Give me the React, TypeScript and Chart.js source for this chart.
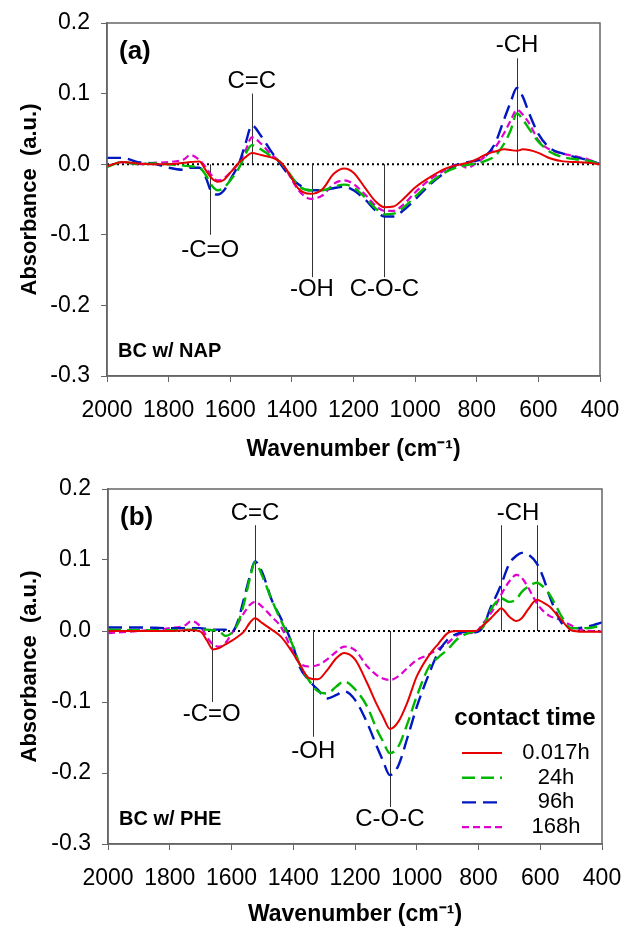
import React, { useEffect, useRef } from "react";
import { Chart, registerables } from "chart.js";
Chart.register(...registerables);

const FONT = "'Liberation Sans', Arial, Helvetica, sans-serif";

const seriesLabels = ["0.017h", "24h", "96h", "168h"];
const seriesColors = ["#e60000", "#00b800", "#0018c0", "#e000d0"];
const seriesDash = [[], [13, 6], [14, 7], [7, 4]];
const seriesWidth = [2, 2.4, 2.4, 2.2];

// ---------- Panel (a): BC w/ NAP ----------
const wavenumbersA = [2000, 1950, 1900, 1850, 1800, 1750, 1730, 1700, 1680, 1660, 1640, 1620, 1600, 1570, 1550, 1530, 1500, 1470, 1440, 1420, 1400, 1380, 1340, 1300, 1265, 1230, 1200, 1160, 1130, 1100, 1070, 1040, 1000, 950, 900, 860, 830, 800, 770, 740, 710, 690, 670, 650, 630, 600, 560, 520, 480, 440, 400];
const redA = [-0.003, 0.003, 0.001, 0.0, 0.0, 0.002, 0.003, 0.004, -0.008, -0.02, -0.025, -0.022, -0.012, 0.003, 0.01, 0.016, 0.013, 0.01, 0.004, -0.006, -0.02, -0.034, -0.042, -0.035, -0.014, -0.006, -0.012, -0.035, -0.052, -0.061, -0.06, -0.05, -0.033, -0.018, -0.006, -0.001, 0.002, 0.007, 0.014, 0.018, 0.021, 0.02, 0.019, 0.021, 0.02, 0.016, 0.008, 0.004, 0.003, 0.002, 0.0];
const greenA = [-0.004, 0.003, 0.0, 0.001, 0.0, -0.002, -0.003, -0.005, -0.015, -0.03, -0.037, -0.033, -0.023, -0.004, 0.015, 0.027, 0.021, 0.012, 0.004, -0.006, -0.018, -0.03, -0.037, -0.037, -0.032, -0.029, -0.033, -0.048, -0.062, -0.071, -0.07, -0.062, -0.046, -0.026, -0.011, -0.004, -0.001, 0.001, 0.005, 0.012, 0.03, 0.048, 0.072, 0.063, 0.05, 0.032, 0.017, 0.01, 0.007, 0.005, 0.0];
const blueA = [0.009, 0.009, 0.003, 0.001, -0.005, -0.008, -0.005, -0.005, -0.018, -0.04, -0.043, -0.037, -0.022, 0.003, 0.03, 0.055, 0.04, 0.02, 0.002, -0.01, -0.02, -0.028, -0.037, -0.037, -0.034, -0.032, -0.037, -0.051, -0.065, -0.074, -0.074, -0.066, -0.05, -0.028, -0.011, 0.0, 0.003, 0.005, 0.012, 0.03, 0.065, 0.088, 0.108, 0.095, 0.072, 0.043, 0.022, 0.015, 0.01, 0.006, 0.0];
const magentaA = [-0.003, 0.003, 0.0, 0.002, 0.003, 0.007, 0.013, 0.006, -0.004, -0.016, -0.023, -0.02, -0.012, 0.003, 0.02, 0.038, 0.029, 0.015, 0.004, -0.007, -0.022, -0.036, -0.049, -0.044, -0.028, -0.023, -0.028, -0.044, -0.058, -0.066, -0.066, -0.058, -0.04, -0.021, -0.008, 0.0, -0.005, 0.002, 0.012, 0.024, 0.045, 0.062, 0.077, 0.07, 0.058, 0.034, 0.02, 0.015, 0.011, 0.007, 0.0];

// ---------- Panel (b): BC w/ PHE ----------
const wavenumbersB = [2000, 1900, 1800, 1750, 1730, 1700, 1680, 1660, 1640, 1620, 1600, 1580, 1560, 1540, 1524, 1500, 1470, 1440, 1400, 1380, 1350, 1320, 1290, 1260, 1235, 1200, 1160, 1130, 1110, 1087, 1060, 1030, 1000, 960, 930, 900, 870, 840, 810, 785, 760, 740, 727, 700, 677, 660, 640, 611, 590, 569, 550, 530, 500, 460, 430, 400];
const redB = [0.0, 0.0, 0.0, 0.001, 0.001, -0.001, -0.013, -0.026, -0.024, -0.019, -0.014, -0.008, -0.001, 0.012, 0.018, 0.011, 0.002, -0.008, -0.032, -0.046, -0.066, -0.068, -0.055, -0.038, -0.031, -0.04, -0.074, -0.103, -0.12, -0.138, -0.128, -0.1, -0.064, -0.034, -0.018, -0.003, 0.0, 0.0, 0.0, 0.008, 0.018, 0.027, 0.032, 0.02, 0.014, 0.018, 0.03, 0.044, 0.04, 0.034, 0.025, 0.015, 0.001, -0.001, -0.001, -0.001];
const greenB = [0.002, 0.001, 0.001, 0.002, 0.002, 0.002, 0.002, 0.001, 0.0, -0.007, -0.003, 0.01, 0.038, 0.075, 0.097, 0.077, 0.044, 0.015, -0.022, -0.046, -0.069, -0.085, -0.088, -0.078, -0.071, -0.082, -0.107, -0.138, -0.155, -0.172, -0.163, -0.13, -0.092, -0.05, -0.037, -0.026, -0.012, -0.004, 0.0, 0.006, 0.03, 0.042, 0.046, 0.041, 0.045, 0.055, 0.062, 0.068, 0.062, 0.051, 0.036, 0.02, 0.004, 0.004, 0.005, 0.008];
const blueB = [0.005, 0.005, 0.004, 0.004, 0.004, 0.004, 0.003, 0.002, 0.002, 0.002, -0.002, 0.013, 0.045, 0.078, 0.098, 0.082, 0.044, 0.018, -0.022, -0.05, -0.069, -0.083, -0.095, -0.09, -0.085, -0.097, -0.13, -0.162, -0.182, -0.203, -0.19, -0.15, -0.107, -0.06, -0.03, -0.012, -0.004, -0.001, -0.002, 0.006, 0.034, 0.052, 0.065, 0.095, 0.106, 0.11, 0.108, 0.095, 0.075, 0.048, 0.028, 0.011, 0.004, 0.005, 0.008, 0.012];
const magentaB = [-0.003, 0.0, 0.004, 0.008, 0.014, 0.006, -0.008, -0.019, -0.022, -0.017, -0.004, 0.01, 0.025, 0.037, 0.041, 0.034, 0.02, 0.006, -0.031, -0.045, -0.05, -0.048, -0.04, -0.029, -0.022, -0.027, -0.05, -0.062, -0.067, -0.069, -0.064, -0.052, -0.041, -0.033, -0.025, -0.017, -0.006, -0.003, -0.002, 0.011, 0.025, 0.04, 0.051, 0.07, 0.079, 0.075, 0.062, 0.039, 0.028, 0.021, 0.018, 0.015, 0.008, 0.001, 0.0, -0.001];

// Axis ticks
const xTickStep = 200;
const xMin = 400;
const xMax = 2000;
const yMin = -0.3;
const yMax = 0.2;
const yTickStep = 0.1;

// Band annotations (wavenumber, line span and label height in data units)
const bandsA = [
  { text: "C=C", xs: [1530], labelX: 1530, from: 0, to: 0.1, labelY: 0.118 },
  { text: "-C=O", xs: [1665], labelX: 1665, from: 0, to: -0.1, labelY: -0.122 },
  { text: "-OH", xs: [1335], labelX: 1335, from: 0, to: -0.16, labelY: -0.178 },
  { text: "C-O-C", xs: [1100], labelX: 1100, from: 0, to: -0.16, labelY: -0.178 },
  { text: "-CH", xs: [669], labelX: 669, from: 0, to: 0.15, labelY: 0.168 },
];
const bandsB = [
  { text: "C=C", xs: [1524], labelX: 1524, from: 0, to: 0.149, labelY: 0.166 },
  { text: "-C=O", xs: [1664], labelX: 1664, from: 0, to: -0.1, labelY: -0.118 },
  { text: "-OH", xs: [1335], labelX: 1335, from: 0, to: -0.149, labelY: -0.17 },
  { text: "C-O-C", xs: [1087], labelX: 1087, from: 0, to: -0.248, labelY: -0.266 },
  { text: "-CH", xs: [727, 611], labelX: 672, from: 0, to: 0.149, labelY: 0.166 },
];

type Band = { text: string; xs: number[]; labelX: number; from: number; to: number; labelY: number };

function makeOverlay(panelTag: string, sample: string, bands: Band[], showLegend: boolean) {
  return {
    id: "overlay" + panelTag,
    beforeDatasetsDraw(chart: any) {
      const { ctx, chartArea, scales } = chart;
      const xs = scales.x;
      const ys = scales.y;
      ctx.save();
      ctx.strokeStyle = "#000";
      ctx.lineWidth = 2;
      ctx.setLineDash([2, 3]);
      ctx.beginPath();
      ctx.moveTo(chartArea.left, ys.getPixelForValue(0));
      ctx.lineTo(chartArea.right, ys.getPixelForValue(0));
      ctx.stroke();
      ctx.setLineDash([]);
      ctx.strokeStyle = "#333";
      ctx.lineWidth = 1;
      bands.forEach((b) => {
        b.xs.forEach((xv) => {
          const px = Math.round(xs.getPixelForValue(xv)) + 0.5;
          ctx.beginPath();
          ctx.moveTo(px, ys.getPixelForValue(b.from));
          ctx.lineTo(px, ys.getPixelForValue(b.to));
          ctx.stroke();
        });
      });
      ctx.restore();
    },
    afterDraw(chart: any) {
      const { ctx, chartArea, scales } = chart;
      const xs = scales.x;
      const ys = scales.y;
      ctx.save();
      ctx.strokeStyle = "#666";
      ctx.lineWidth = 1.5;
      ctx.strokeRect(chartArea.left, chartArea.top, chartArea.right - chartArea.left, chartArea.bottom - chartArea.top);
      ctx.fillStyle = "#000";
      ctx.font = `24px ${FONT}`;
      ctx.textAlign = "center";
      ctx.textBaseline = "middle";
      bands.forEach((b) => {
        ctx.fillText(b.text, xs.getPixelForValue(b.labelX), ys.getPixelForValue(b.labelY));
      });
      ctx.font = `bold 26px ${FONT}`;
      ctx.textAlign = "left";
      ctx.fillText(panelTag, chartArea.left + 12, chartArea.top + 29);
      ctx.font = `bold 20px ${FONT}`;
      ctx.fillText(sample, chartArea.left + 11, chartArea.bottom - 25);
      if (showLegend) {
        const right = chartArea.right;
        const bottom = chartArea.bottom;
        ctx.font = `bold 24px ${FONT}`;
        ctx.textAlign = "center";
        ctx.fillText("contact time", right - 77, bottom - 126);
        ctx.font = `22px ${FONT}`;
        chart.data.datasets.forEach((ds: any, i: number) => {
          const y = bottom - 91 + i * 24.7;
          ctx.strokeStyle = ds.borderColor;
          ctx.lineWidth = ds.borderWidth;
          ctx.setLineDash(ds.borderDash || []);
          ctx.beginPath();
          ctx.moveTo(right - 140, y);
          ctx.lineTo(right - 100, y);
          ctx.stroke();
          ctx.setLineDash([]);
          ctx.fillStyle = "#000";
          ctx.fillText(ds.label, right - 46, y);
        });
      }
      ctx.restore();
    },
  };
}

function buildConfig(
  wavenumbers: number[],
  series: number[][],
  pad: { top: number; right: number },
  yWidth: number,
  xHeight: number,
  xTickPad: number,
  xTitlePad: number,
  plugin: any
) {
  return {
    type: "line",
    data: {
      datasets: series.map((vals, i) => ({
        label: seriesLabels[i],
        data: wavenumbers.map((w, j) => ({ x: w, y: vals[j] })),
        borderColor: seriesColors[i],
        borderWidth: seriesWidth[i],
        borderDash: seriesDash[i],
        pointRadius: 0,
        fill: false,
        cubicInterpolationMode: "monotone",
      })),
    },
    options: {
      animation: false,
      responsive: false,
      maintainAspectRatio: false,
      layout: { padding: { left: 0, top: pad.top, right: pad.right, bottom: 0 } },
      plugins: { legend: { display: false }, tooltip: { enabled: false } },
      scales: {
        x: {
          type: "linear",
          reverse: true,
          min: xMin,
          max: xMax,
          afterFit: (s: any) => {
            s.height = xHeight;
            s.paddingLeft = 0;
            s.paddingRight = 0;
          },
          ticks: {
            stepSize: xTickStep,
            color: "#000",
            font: { family: FONT, size: 23 },
            padding: xTickPad,
            maxRotation: 0,
            autoSkip: false,
            callback: (v: any) => String(v),
          },
          grid: { drawOnChartArea: false, drawTicks: true, tickLength: 6, color: "#666" },
          border: { display: true, color: "#666", width: 1.5 },
          title: {
            display: true,
            text: "Wavenumber (cm\u207B\u00B9)",
            color: "#000",
            font: { family: FONT, size: 23, weight: "bold" },
            padding: { top: 0, bottom: xTitlePad },
          },
        },
        y: {
          min: yMin,
          max: yMax,
          afterFit: (s: any) => {
            s.width = yWidth;
            s.paddingTop = 0;
            s.paddingBottom = 0;
          },
          ticks: {
            stepSize: yTickStep,
            color: "#000",
            font: { family: FONT, size: 23 },
            padding: 11,
            callback: (v: any) => {
              const n = Math.round(v * 10) / 10;
              return (n === 0 ? 0 : n).toFixed(1);
            },
          },
          grid: { drawOnChartArea: false, drawTicks: true, tickLength: 6, color: "#666" },
          border: { display: true, color: "#666", width: 1.5 },
          title: {
            display: true,
            text: "Absorbance  (a.u.)",
            color: "#000",
            font: { family: FONT, size: 22, weight: "bold" },
            padding: { top: 17, bottom: 0 },
          },
        },
      },
    },
    plugins: [plugin],
  } as any;
}

function Panel(props: { config: any; top: number }) {
  const ref = useRef<HTMLCanvasElement | null>(null);
  useEffect(() => {
    if (!ref.current) return;
    const chart = new Chart(ref.current, props.config);
    return () => chart.destroy();
  }, []);
  return (
    <canvas
      ref={ref}
      width={622}
      height={464}
      style={{ position: "absolute", left: 0, top: props.top, width: 622, height: 464 }}
    />
  );
}

export default function App() {
  const configA = buildConfig(
    wavenumbersA,
    [redA, greenA, blueA, magentaA],
    { top: 23, right: 22 },
    107,
    88,
    15,
    1,
    makeOverlay("(a)", "BC w/ NAP", bandsA, false)
  );
  const configB = buildConfig(
    wavenumbersB,
    [redB, greenB, blueB, magentaB],
    { top: 25, right: 20 },
    108,
    84,
    15,
    0,
    makeOverlay("(b)", "BC w/ PHE", bandsB, true)
  );
  return (
    <div style={{ position: "absolute", left: 0, top: 0, width: 622, height: 928, background: "#fff" }}>
      <Panel config={configA} top={0} />
      <Panel config={configB} top={464} />
    </div>
  );
}
